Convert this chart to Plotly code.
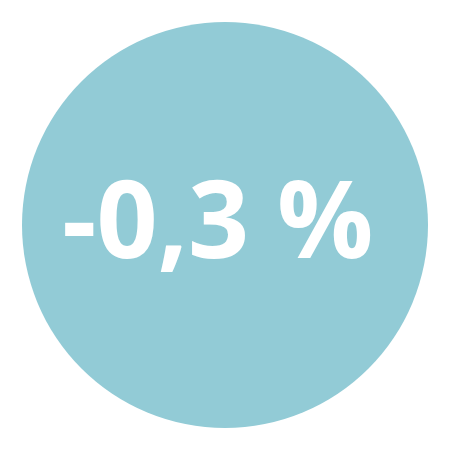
import plotly.graph_objects as go

value = [-0.3]
label_unit = ["%"]
circle_color = "#92cbd6"

label = f"{value[0]:.1f}".replace(".", ",") + " " + label_unit[0]

W = 450
off = 8  # page body margin
fig = go.Figure()
fig.add_shape(type="circle", xref="paper", yref="paper",
              x0=(22 - off)/W, x1=(428 - off)/W,
              y0=1 - (428 - off)/W, y1=1 - (22 - off)/W,
              fillcolor=circle_color, line=dict(width=0), layer="below")
fig.add_annotation(x=(217.5 - off)/W, y=1 - (216.5 - off)/W, xref="paper", yref="paper",
                   text=label, showarrow=False,
                   font=dict(family="Open Sans", size=107, color="white", weight=700),
                   xanchor="center", yanchor="middle")
fig.update_xaxes(visible=False, range=[0, 1])
fig.update_yaxes(visible=False, range=[0, 1])
fig.update_layout(width=W, height=W, margin=dict(l=0, r=0, t=0, b=0),
                  paper_bgcolor="white", plot_bgcolor="white", showlegend=False)
fig.write_html("out.html")
